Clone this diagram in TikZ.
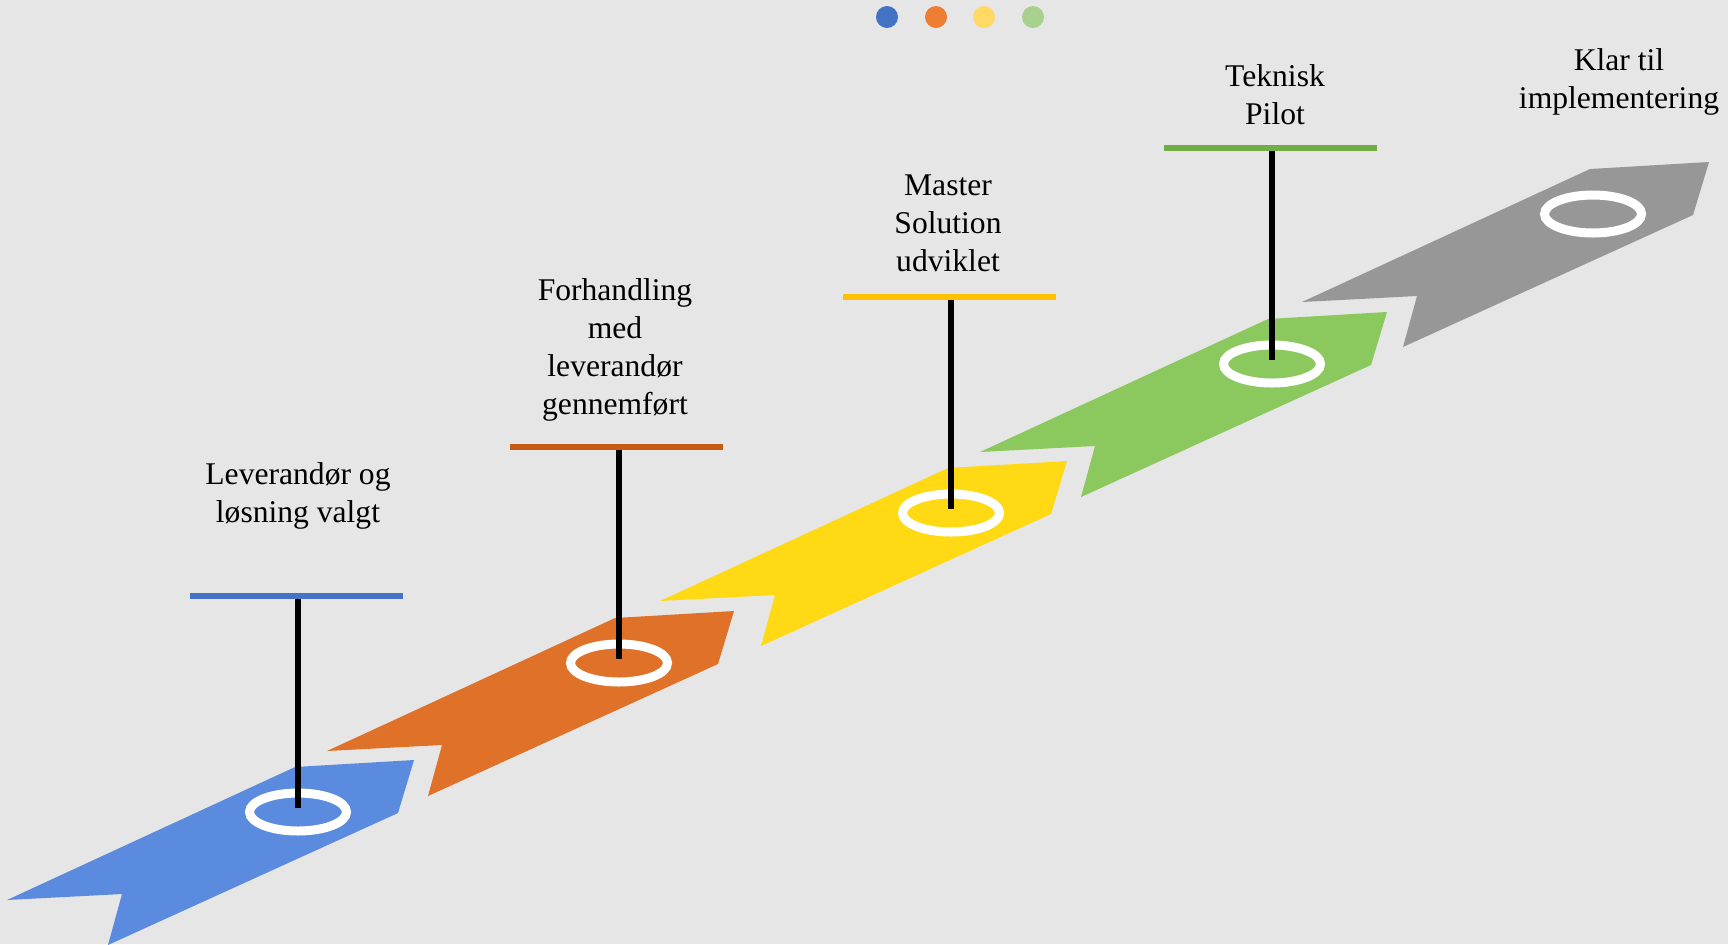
\documentclass[tikz,border=0pt]{standalone}
\usepackage{fontspec}
\setmainfont{Liberation Serif}
\usetikzlibrary{positioning,shapes.geometric}

\definecolor{bgcol}{HTML}{E7E6E6}
\definecolor{arrblue}{HTML}{5B8BDE}
\definecolor{arrorange}{HTML}{E07128}
\definecolor{arryellow}{HTML}{FFDA14}
\definecolor{arrgreen}{HTML}{8BC85D}
\definecolor{arrgrey}{HTML}{979797}
\definecolor{dotblue}{HTML}{4472C4}
\definecolor{dotorange}{HTML}{ED7D31}
\definecolor{dotyellow}{HTML}{FFD966}
\definecolor{dotgreen}{HTML}{A9D18E}
\definecolor{barorange}{HTML}{C55A11}
\definecolor{baryellow}{HTML}{FFC000}
\definecolor{bargreen}{HTML}{70AD47}

\begin{document}
\begin{tikzpicture}[
    x=0.5pt, y=-0.5pt,
    lbl/.style={align=center, inner sep=0pt,
                font=\fontsize{15.8}{19}\selectfont},
    ring/.style={draw=white, ellipse, line width=4.5pt, inner sep=0pt,
                 minimum width=48.5pt, minimum height=19pt},
    bar/.style={rectangle, inner sep=0pt, minimum width=106.5pt,
                minimum height=3pt},
    dot/.style={circle, inner sep=0pt, minimum size=11pt},
    stem/.style={line width=3.25pt, black, shorten >=2pt},
    chevron/.pic={\path[pic actions] (0,0) -- (288,-133) -- (407,-140)
                   -- (391,-87) -- (101,45) -- (115,-6) -- cycle;}
  ]

  % ========= canvas =========
  \useasboundingbox (0,0) rectangle (1728,944);
  \fill[bgcol] (0,0) rectangle (1728,944);

  % ========= dots on top =========
  \node[dot, fill=dotblue]   (dblue)   at (887,17)  {};
  \node[dot, fill=dotorange] (dorange) at (936,17)  {};
  \node[dot, fill=dotyellow] (dyellow) at (984,17)  {};
  \node[dot, fill=dotgreen]  (dgreen)  at (1033,17) {};

  % ========= chevron steps =========
  \pic[fill=arrblue]   at (7,900)    {chevron};
  \pic[fill=arrorange] at (327,751)  {chevron};
  \pic[fill=arryellow] at (660,601)  {chevron};
  \pic[fill=arrgreen]  at (980,452)  {chevron};
  \pic[fill=arrgrey]   at (1302,302) {chevron};

  % ========= rings on the steps =========
  \node[ring] (ringblue)   at (298,812)  {};
  \node[ring] (ringorange) at (619,663)  {};
  \node[ring] (ringyellow) at (951,513)  {};
  \node[ring] (ringgreen)  at (1272,364) {};
  \node[ring] (ringgrey)   at (1593,214) {};

  % ========= milestone bars =========
  \node[bar, fill=dotblue]   (barblue)   at (296,596)  {};
  \node[bar, fill=barorange] (barorange) at (616,447)  {};
  \node[bar, fill=baryellow] (baryellow) at (949,297)  {};
  \node[bar, fill=bargreen]  (bargreen)  at (1270,148) {};

  \draw[stem] (barblue.south -| ringblue)     -- (ringblue.center);
  \draw[stem] (barorange.south -| ringorange) -- (ringorange.center);
  \draw[stem] (baryellow.south -| ringyellow) -- (ringyellow.center);
  \draw[stem] (bargreen.south -| ringgreen)   -- (ringgreen.center);

  % ========= labels =========
  \node[lbl] (lblblue)   at (298,496)  {Leverandør og\\løsning valgt};
  \node[lbl] (lblorange) at (615,350)  {Forhandling\\med\\leverandør\\gennemført};
  \node[lbl] (lblyellow) at (948,223)  {Master\\Solution\\udviklet};
  \node[lbl] (lblgreen)  at (1275,95)  {Teknisk\\Pilot};
  \node[lbl] (lblgrey)   at (1619,82)  {Klar til\\implementering};

\end{tikzpicture}
\end{document}
